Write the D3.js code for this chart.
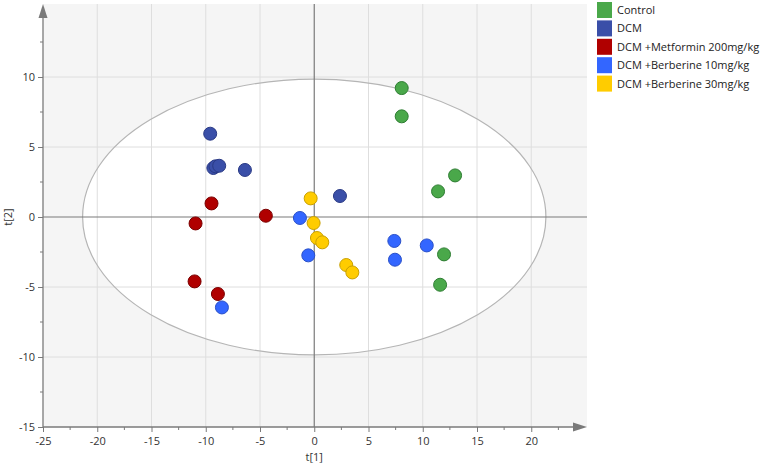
<!DOCTYPE html>
<html><head><meta charset="utf-8">
<script src="https://cdn.jsdelivr.net/npm/d3@7"></script>
<style>
body{margin:0;background:#fff;}
text{font-family:"Open Sans","Noto Sans",sans-serif;}
</style></head>
<body><svg id="c" width="767" height="467"></svg>
<script>
const groups = ["Control","DCM","DCM +Metformin 200mg/kg","DCM +Berberine 10mg/kg","DCM +Berberine 30mg/kg"];
const colors = ["#4aa84a","#3a4fa8","#b00000","#3366ff","#ffcc00"];
const strokes = ["#2e7d32","#2a3a85","#7a0000","#2a50c8","#c9a000"];
const controlX = [8.06, 8.06, 12.98, 11.41, 11.96, 11.6];
const controlY = [9.21, 7.19, 2.97, 1.83, -2.67, -4.84];
const dcmX = [-9.59, -9.3, -9.1, -8.76, -6.39, 2.37];
const dcmY = [5.95, 3.5, 3.62, 3.66, 3.36, 1.5];
const metX = [-9.47, -4.46, -10.94, -11.03, -8.88];
const metY = [0.97, 0.09, -0.46, -4.6, -5.5];
const ber10X = [-1.32, -0.55, -8.51, 7.38, 7.44, 10.37];
const ber10Y = [-0.07, -2.74, -6.46, -1.71, -3.05, -2.03];
const ber30X = [-0.33, -0.06, 0.25, 0.74, 2.95, 3.51];
const ber30Y = [1.33, -0.43, -1.5, -1.81, -3.43, -3.96];
const xTicks = [-25,-20,-15,-10,-5,0,5,10,15,20];
const yTicks = [-15,-10,-5,0,5,10];
const ellipseRx = 21.35, ellipseRy = 9.85;

const series = [[controlX,controlY],[dcmX,dcmY],[metX,metY],[ber10X,ber10Y],[ber30X,ber30Y]];
const svg = d3.select("#c");
const x = d3.scaleLinear().domain([-25,25]).range([43,585.5]);
const y = d3.scaleLinear().domain([-15,15]).range([427,7]);
const plotTop = 4, plotRight = 587;

svg.append("rect").attr("x",x(-25)).attr("y",plotTop).attr("width",plotRight-x(-25)).attr("height",y(-15)-plotTop).attr("fill","#f5f5f5");
const ell = () => svg.append("ellipse").attr("cx",x(0)).attr("cy",y(0)).attr("rx",x(ellipseRx)-x(0)).attr("ry",y(0)-y(ellipseRy));
ell().attr("fill","#fff").attr("stroke","none");
// grid
d3.range(-20,25,5).forEach(v=>{ if(v!==0) svg.append("line").attr("x1",x(v)).attr("x2",x(v)).attr("y1",plotTop).attr("y2",y(-15)).attr("stroke","#dedede").attr("stroke-width",1);});
[-10,-5,5,10].forEach(v=>svg.append("line").attr("x1",x(-25)).attr("x2",plotRight).attr("y1",y(v)).attr("y2",y(v)).attr("stroke","#dedede").attr("stroke-width",1));
ell().attr("fill","none").attr("stroke","#b5b5b5").attr("stroke-width",1.2);
// zero lines
svg.append("line").attr("x1",x(-25)).attr("x2",plotRight).attr("y1",y(0)).attr("y2",y(0)).attr("stroke","#7a7a7a").attr("stroke-width",1.2);
svg.append("line").attr("x1",x(0)).attr("x2",x(0)).attr("y1",plotTop).attr("y2",y(-15)).attr("stroke","#7a7a7a").attr("stroke-width",1.2);

// axes
const xAxis = d3.axisBottom(x).tickValues(xTicks).tickSize(5).tickSizeOuter(0).tickFormat(d=>d);
const gx = svg.append("g").attr("transform",`translate(0,${y(-15)})`).call(xAxis);
gx.select(".domain").remove();
svg.append("line").attr("x1",x(-25)).attr("x2",plotRight-10).attr("y1",y(-15)).attr("y2",y(-15)).attr("stroke","#7a7a7a").attr("stroke-width",1.3);
svg.append("path").attr("d",`M${plotRight-14},${y(-15)-4.5}L${plotRight},${y(-15)}L${plotRight-14},${y(-15)+4.5}Z`).attr("fill","#7a7a7a");
d3.range(-22.5,25,5).forEach(v=>svg.append("line").attr("x1",x(v)).attr("x2",x(v)).attr("y1",y(-15)).attr("y2",y(-15)+3).attr("stroke","#7a7a7a"));

const yAxis = d3.axisLeft(y).tickValues(yTicks).tickSize(5).tickSizeOuter(0).tickFormat(d=>d);
const gy = svg.append("g").attr("transform",`translate(${x(-25)},0)`).call(yAxis);
gy.select(".domain").remove();
svg.append("line").attr("x1",x(-25)).attr("x2",x(-25)).attr("y1",y(-15)).attr("y2",plotTop+10).attr("stroke","#7a7a7a").attr("stroke-width",1.3);
svg.append("path").attr("d",`M${x(-25)-4.5},${plotTop+14}L${x(-25)},${plotTop}L${x(-25)+4.5},${plotTop+14}Z`).attr("fill","#7a7a7a");
d3.range(-12.5,15,5).forEach(v=>svg.append("line").attr("x1",x(-25)-3).attr("x2",x(-25)).attr("y1",y(v)).attr("y2",y(v)).attr("stroke","#7a7a7a"));

[gx,gy].forEach(g=>{
  g.selectAll(".tick line").attr("stroke","#7a7a7a");
  g.selectAll(".tick text").attr("fill","#333").style("font-size","11px").style("font-family","'Open Sans','Noto Sans',sans-serif");
});
gx.selectAll(".tick text").attr("dy","0.95em");

svg.append("text").attr("x",x(0)).attr("y",461).attr("text-anchor","middle").attr("fill","#333").style("font-size","11px").text("t[1]");
svg.append("text").attr("transform",`translate(12,${y(0)}) rotate(-90)`).attr("text-anchor","middle").attr("fill","#333").style("font-size","11px").text("t[2]");

// points
series.forEach((s,i)=>{
  const pts = s[0].map((v,j)=>[v,s[1][j]]);
  svg.append("g").selectAll("circle").data(pts).join("circle")
    .attr("cx",d=>x(d[0])).attr("cy",d=>y(d[1])).attr("r",6.5)
    .attr("fill",colors[i]).attr("stroke",strokes[i]).attr("stroke-width",1);
});

// legend
const lg = svg.append("g").attr("transform","translate(597,2)");
groups.forEach((g,i)=>{
  lg.append("rect").attr("x",0).attr("y",i*18.4).attr("width",15).attr("height",16).attr("fill",colors[i]);
  lg.append("text").attr("x",20).attr("y",i*18.4+12).attr("fill","#222").style("font-size","11px").text(g);
});
</script></body></html>
